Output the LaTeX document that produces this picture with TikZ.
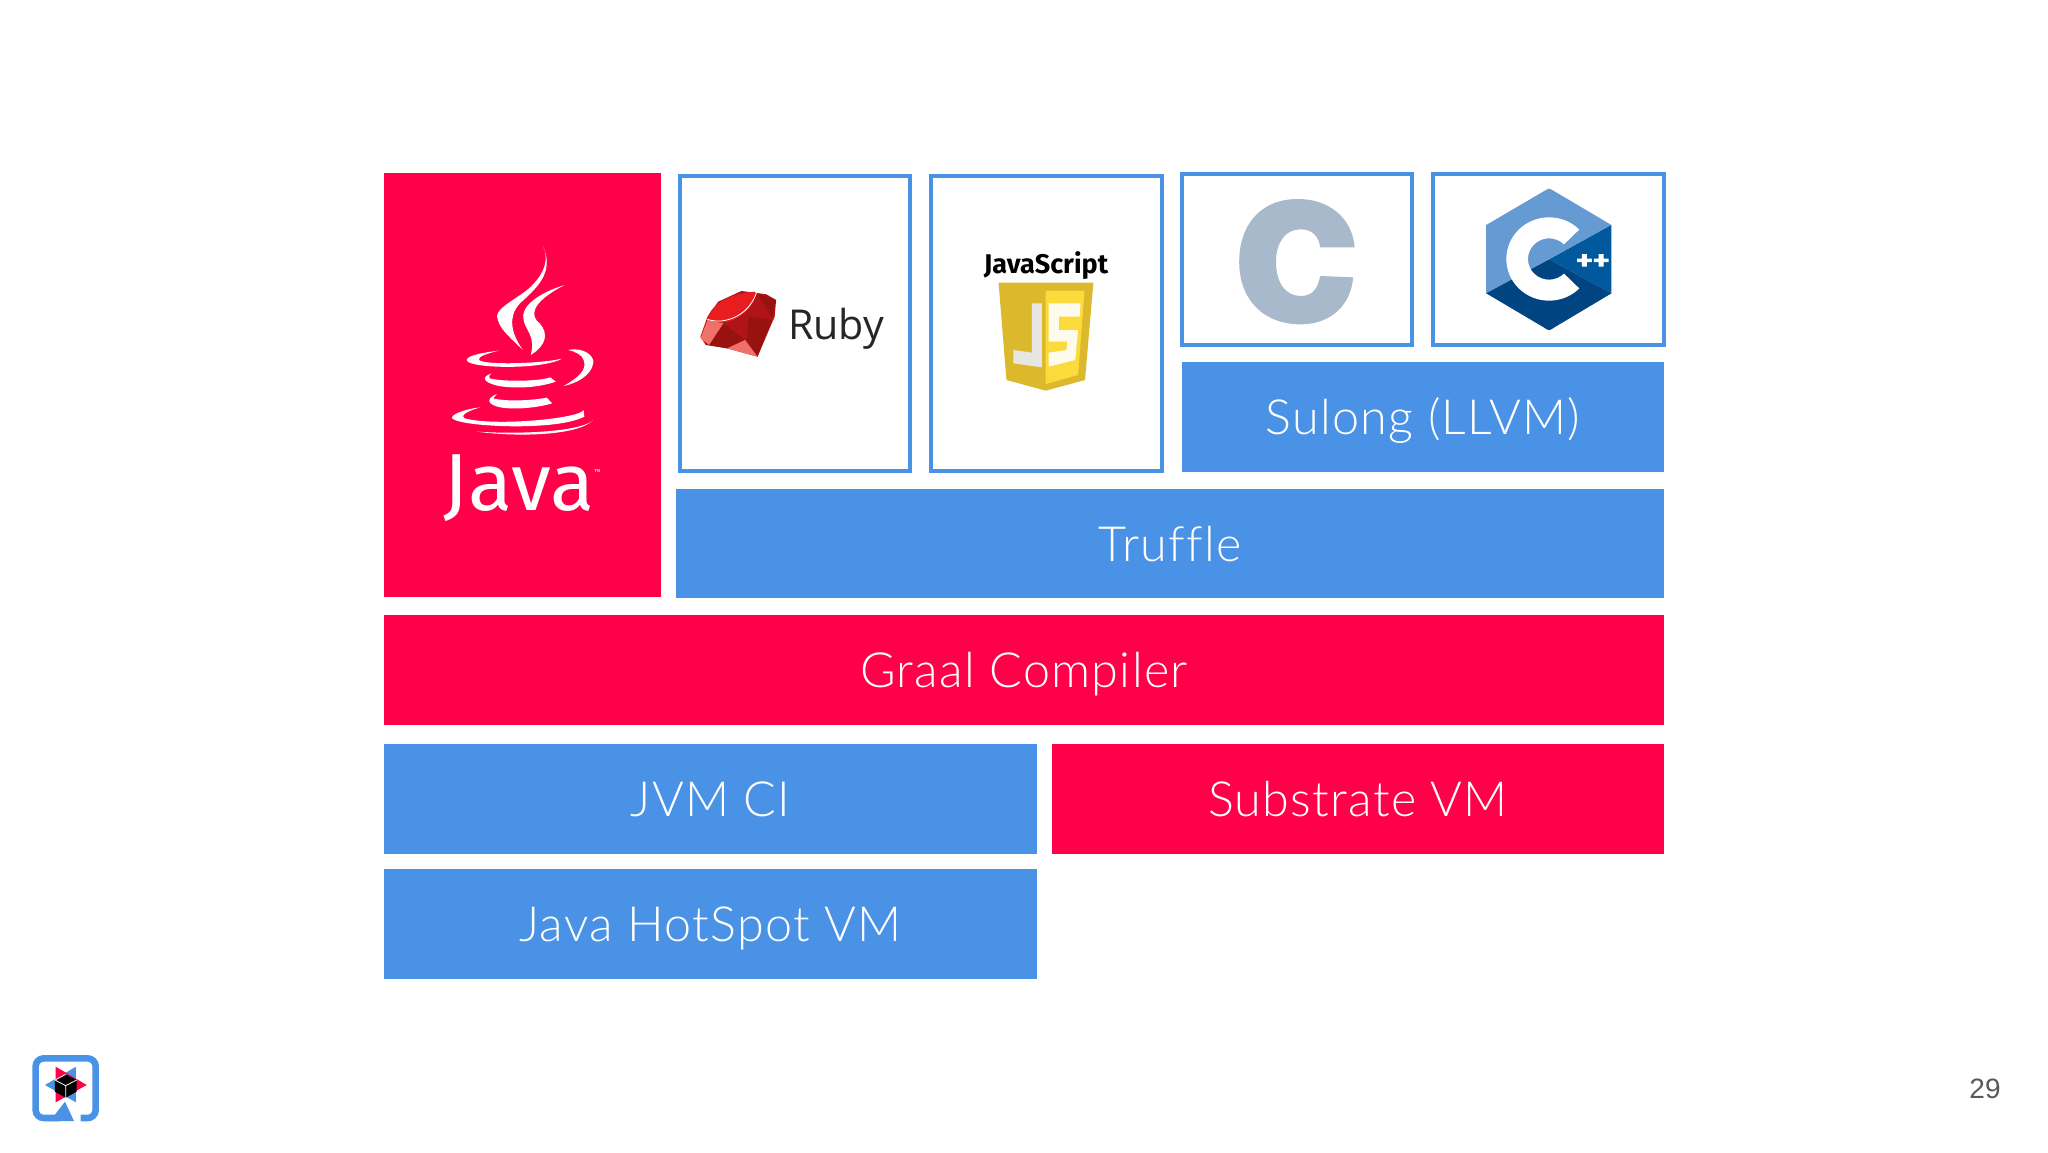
\documentclass[tikz,border=0pt]{standalone}
\usepackage{fontspec}
\setmainfont{Liberation Sans}
\newfontfamily\thinfont{Lato}[UprightFont=* Light, LetterSpace=2.7, Ligatures=NoCommon]
\newfontfamily\logofont{Fira Sans}
\newfontfamily\rubyfont{Open Sans}
\usetikzlibrary{positioning}

\definecolor{slidered}{HTML}{FF0049}
\definecolor{slideblue}{HTML}{4A92E6}
\definecolor{cgrey}{HTML}{A9B9CC}
\definecolor{cpplight}{HTML}{659AD2}
\definecolor{cppmid}{HTML}{00599C}
\definecolor{cppdark}{HTML}{004482}
\definecolor{jsdark}{HTML}{DCB92C}
\definecolor{jslight}{HTML}{FBDA3C}
\definecolor{jspale}{HTML}{E8E6E0}
\definecolor{rubybase}{HTML}{B01418}
\definecolor{rubytop}{HTML}{E71D20}
\definecolor{rubydark}{HTML}{98120F}
\definecolor{rubypink}{HTML}{F0706A}

\begin{document}
\begin{tikzpicture}[
    x=1pt, y=-1pt,
    % Define styles
    layer/.style={rectangle, inner sep=0pt, outer sep=0pt, text=white, font=\thinfont\fontsize{48.5}{58}\selectfont, text height=45pt, text depth=10pt, align=center},
    redlayer/.style={layer, fill=slidered},
    bluelayer/.style={layer, fill=slideblue},
    langbox/.style={rectangle, draw=slideblue, line width=4pt, fill=white, inner sep=0pt, outer sep=0pt, anchor=north west},
    zoomone/.style={shift={(370,160)}, x=0.35714pt, y=-0.33333pt},
    zoomtwo/.style={shift={(920,160)}, x=0.49107pt, y=-0.33333pt},
    zoomthree/.style={shift={(0,1030)}, x=0.33333pt, y=-0.33333pt}
  ]
  \useasboundingbox (0,0) rectangle (2048,1152);

  % Java column
  \node[redlayer, minimum width=277pt, minimum height=424pt] (java) at (522.5,384.7) {};

  % Guest language boxes
  \node[langbox, minimum width=230.4pt, minimum height=295.4pt] (ruby) at (680,175.8) {};
  \node[langbox, minimum width=230.4pt, minimum height=295.4pt, right=21pt of ruby.north east, anchor=north west] (js) {};
  \node[langbox, minimum width=230.4pt, minimum height=171pt] (clang) at (1182,173.5) {};
  \node[langbox, minimum width=230.4pt, minimum height=171pt, right=21pt of clang.north east, anchor=north west] (cpp) {};

  % Layers
  \node[bluelayer, minimum width=482pt, minimum height=110pt] (sulong) at (1423,416.7) {Sulong (LLVM)};
  \node[bluelayer, minimum width=988pt, minimum height=109.5pt] (truffle) at (1170,543.5) {Truffle};
  \node[redlayer, minimum width=1280pt, minimum height=110pt] (graal) at (1024,670) {Graal Compiler};
  \node[bluelayer, minimum width=653pt, minimum height=110pt] (jvmci) at (710.5,799) {JVM CI};
  \node[redlayer, minimum width=612pt, minimum height=110pt, right=15pt of jvmci] (substrate) {Substrate VM};
  \node[bluelayer, minimum width=653pt, minimum height=110pt, below=14.7pt of jvmci] (hotspot) {Java HotSpot VM};

  % Java logo
  \begin{scope}[zoomone]
    \fill[white] (484,258) .. controls (500,290) and (495,340) .. (440,390) .. controls (390,430) and (345,450) .. (358,480) .. controls (365,510) and (400,540) .. (428,570) .. controls (395,520) and (385,470) .. (420,430) .. controls (460,390) and (520,340) .. (484,258) -- cycle;
    \fill[white] (545,375) .. controls (470,400) and (420,440) .. (430,480) .. controls (435,510) and (465,530) .. (450,585) .. controls (495,555) and (500,520) .. (475,490) .. controls (450,470) and (445,430) .. (545,375) -- cycle;
    \fill[white] (360,572) .. controls (300,580) and (265,590) .. (272,603) .. controls (285,625) and (480,630) .. (538,596) .. controls (470,612) and (320,615) .. (305,600) .. controls (300,590) and (330,580) .. (360,572) -- cycle;
    \fill[white] (555,570) .. controls (600,560) and (630,590) .. (625,610) .. controls (620,645) and (580,670) .. (542,678) .. controls (580,655) and (610,630) .. (598,600) .. controls (595,585) and (575,575) .. (555,570) -- cycle;
    \fill[white] (340,640) .. controls (315,650) and (310,665) .. (360,678) .. controls (420,688) and (480,680) .. (520,665) -- (505,652) .. controls (470,665) and (370,665) .. (335,655) .. controls (330,650) and (335,645) .. (340,640) -- cycle;
    \fill[white] (355,702) .. controls (325,715) and (325,735) .. (370,743) .. controls (420,750) and (480,740) .. (510,730) -- (495,713) .. controls (450,722) and (380,725) .. (345,715) -- cycle;
    \fill[white] (310,742) .. controls (260,748) and (225,765) .. (230,775) .. controls (250,800) and (520,815) .. (600,770) -- (598,750) .. controls (590,775) and (350,800) .. (265,775) .. controls (250,765) and (280,750) .. (310,742) -- cycle;
    \fill[white] (300,815) .. controls (400,830) and (580,830) .. (625,780) .. controls (600,810) and (450,825) .. (300,815) -- cycle;
  \end{scope}
  \node[text=white, font=\logofont\fontsize{81}{88}\selectfont, inner sep=0pt] (javaword) at (519,488) {Java};
  \node[text=white, font=\logofont\fontsize{7}{8}\selectfont, inner sep=0pt, right=0pt of javaword.north east, yshift=-18pt] (javatm) {™};

  % Ruby logo
  \begin{scope}[zoomone]
    \fill[rubybase] (925,530) -- (945,470) -- (975,425) -- (1040,393) -- (1110,403) -- (1137,420) -- (1133,470) -- (1085,590) -- (1000,565) -- (940,555) -- cycle;
    \fill[rubytop] (945,478) .. controls (950,440) and (1000,400) .. (1078,395) .. controls (1085,420) and (1050,480) .. (985,488) -- cycle;
    \fill[rubydark] (1085,400) -- (1137,420) -- (1125,475) -- cycle;
    \fill[rubydark] (1060,470) -- (1125,480) -- (1085,590) -- (1055,540) -- cycle;
    \fill[rubypink] (945,480) -- (990,490) -- (950,555) -- (925,535) -- cycle;
    \fill[rubydark] (990,490) -- (1050,540) -- (1000,565) -- (950,555) -- cycle;
    \fill[rubypink] (1050,540) -- (1085,590) -- (1000,565) -- cycle;
    \draw[white, line width=0.8pt] (945,478) .. controls (990,495) and (1060,470) .. (1082,398);
  \end{scope}
  \node[text=black!85, font=\rubyfont\fontsize{41.2}{48}\selectfont, inner sep=0pt] (rubyword) at (836,329) {Ruby};

  % JavaScript logo
  \node[text=black, font=\logofont\bfseries\fontsize{27}{32}\selectfont, inner sep=0pt] (jsword) at (1046,266) {JavaScript};
  \begin{scope}[zoomtwo]
    \fill[jsdark] (160,368) -- (353,368) -- (336,660) -- (256,692) -- (176,660) -- cycle;
    \fill[jslight] (256,392) -- (335,392) -- (322,645) -- (256,672) -- cycle;
    \fill[jspale] (228,430) -- (248,430) -- (248,622) -- (190,610) -- (190,570) -- (228,578) -- cycle;
    \fill[white!90!jslight] (262,430) -- (327,430) -- (325,470) -- (283,470) -- (283,510) -- (322,510) -- (316,600) -- (262,620) -- (262,578) -- (298,570) -- (300,545) -- (262,545) -- cycle;
  \end{scope}

  % C logo
  \begin{scope}[zoomtwo]
    \fill[cgrey] (885,262) .. controls (880,170) and (830,117) .. (770,117) .. controls (690,117) and (650,200) .. (650,305) .. controls (650,420) and (700,493) .. (775,493) .. controls (840,493) and (878,430) .. (882,352) -- (815,348) .. controls (810,385) and (800,408) .. (775,408) .. controls (745,408) and (725,370) .. (725,305) .. controls (725,245) and (745,208) .. (775,208) .. controls (800,208) and (812,230) .. (815,262) -- cycle;
  \end{scope}

  % C++ logo
  \begin{scope}[zoomtwo]
    \fill[cpplight] (1408,195) -- (1292,94) .. controls (1281,84) .. (1270,94) -- (1153,195) -- (1153,400) -- cycle;
    \fill[cppmid] (1408,195) -- (1408,400) -- (1281,298) -- cycle;
    \fill[cppdark] (1153,400) -- (1270,502) .. controls (1281,513) .. (1292,502) -- (1408,400) -- (1281,298) -- cycle;
    \fill[white] (1342.5,208.6) arc[start angle=-45, end angle=-315, x radius=87, y radius=125] -- (1311.4,340.8) arc[start angle=-315, end angle=-45, x radius=43, y radius=62] -- cycle;
    \fill[white] (1338,296) rectangle (1368,306) (1348,282) rectangle (1358,320);
    \fill[white] (1372,296) rectangle (1402,306) (1382,282) rectangle (1392,320);
  \end{scope}

  % Quarkus logo
  \begin{scope}[zoomthree]
    \draw[slideblue, line width=6.6pt, rounded corners=8pt] (242,264) -- (287,264) -- (287,85) -- (107,85) -- (107,264) -- (180,264);
    \fill[slideblue] (195,215) -- (222,273) -- (150,273) -- cycle;
    \fill[slideblue] (228,110) -- (135,165) -- (228,217) -- cycle;
    \fill[slidered] (167,110) -- (260,165) -- (167,217) -- cycle;
    \fill[black] (197,133) -- (230,150) -- (230,185) -- (197,203) -- (165,185) -- (165,150) -- cycle;
    \draw[white, line width=0.8pt] (197,203) -- (197,167) -- (165,150) -- (197,133) (197,167) -- (230,150);
  \end{scope}

  % Page number
  \node[text=black!65, font=\fontsize{28}{32}\selectfont, inner sep=0pt] (pagenum) at (1985,1089) {29};

\end{tikzpicture}
\end{document}
